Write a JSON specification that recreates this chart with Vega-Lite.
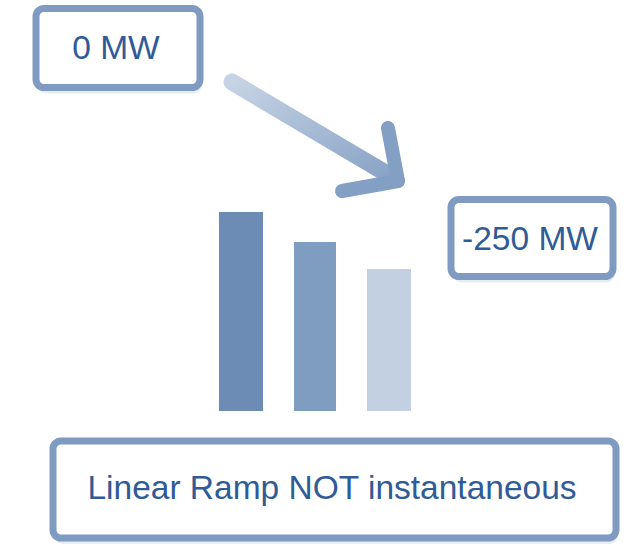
{
  "$schema": "https://vega.github.io/schema/vega-lite/v6.json",
  "autosize": {"type": "fit", "contains": "padding"},
  "width": 631,
  "height": 545,
  "padding": 0,
  "background": "white",
  "config": {"view": {"stroke": null}},
  "datasets": {
    "boxes": [
      {"label": "0 MW", "x1": 36, "x2": 200, "y1": 8.5, "y2": 87.5, "tx": 116, "ty": 49},
      {"label": "-250 MW", "x1": 451, "x2": 613, "y1": 199.5, "y2": 276.5, "tx": 530, "ty": 240},
      {"label": "Linear Ramp NOT instantaneous", "x1": 53, "x2": 616, "y1": 441, "y2": 538, "tx": 332, "ty": 489}
    ],
    "bars": [
      {"step": "1", "x1": 219, "x2": 263, "top": 212, "base": 411},
      {"step": "2", "x1": 294, "x2": 336, "top": 242, "base": 411},
      {"step": "3", "x1": 367, "x2": 411, "top": 269, "base": 411}
    ],
    "shaft": [{"xa": 232, "ya": 82, "xb": 394, "yb": 178}],
    "head": [
      {"part": "a", "xa": 388, "ya": 128, "xb": 398, "yb": 181},
      {"part": "b", "xa": 342, "ya": 191, "xb": 398, "yb": 181}
    ]
  },
  "encoding": {
    "x": {"type": "quantitative", "scale": {"domain": [0, 631], "nice": false, "zero": false}, "axis": null},
    "y": {"type": "quantitative", "scale": {"domain": [0, 545], "nice": false, "zero": false, "reverse": true}, "axis": null}
  },
  "layer": [
    {
      "data": {"name": "boxes"},
      "mark": {"type": "rect", "cornerRadius": 9, "fill": "#9fb4d0", "opacity": 0.25, "xOffset": 2, "yOffset": 6, "x2Offset": 2, "y2Offset": 6},
      "encoding": {"x": {"field": "x1"}, "x2": {"field": "x2"}, "y": {"field": "y1"}, "y2": {"field": "y2"}}
    },
    {
      "data": {"name": "boxes"},
      "mark": {"type": "rect", "cornerRadius": 8, "fill": "white", "stroke": "#7f9bc1", "strokeWidth": 7},
      "encoding": {"x": {"field": "x1"}, "x2": {"field": "x2"}, "y": {"field": "y1"}, "y2": {"field": "y2"}}
    },
    {
      "data": {"name": "boxes"},
      "mark": {"type": "text", "font": "Liberation Sans", "fontSize": 33.5, "color": "#2f5b97", "align": "center", "baseline": "middle"},
      "encoding": {"x": {"field": "tx"}, "y": {"field": "ty"}, "text": {"field": "label"}}
    },
    {
      "data": {"name": "bars"},
      "mark": {"type": "rect"},
      "encoding": {
        "x": {"field": "x1"}, "x2": {"field": "x2"}, "y": {"field": "top"}, "y2": {"field": "base"},
        "color": {"field": "step", "type": "nominal", "scale": {"domain": ["1", "2", "3"], "range": ["#6c8cb5", "#7f9cc1", "#c2d0e2"]}, "legend": null}
      }
    },
    {
      "data": {"name": "shaft"},
      "mark": {"type": "rule", "strokeWidth": 17, "strokeCap": "round",
        "color": {"gradient": "linear", "x1": 0, "y1": 0, "x2": 1, "y2": 1, "stops": [{"offset": 0, "color": "#c6d3e4"}, {"offset": 1, "color": "#87a2c5"}]}},
      "encoding": {"x": {"field": "xa"}, "y": {"field": "ya"}, "x2": {"field": "xb"}, "y2": {"field": "yb"}}
    },
    {
      "data": {"name": "head"},
      "mark": {"type": "rule", "strokeWidth": 14, "strokeCap": "round", "color": "#839fc3"},
      "encoding": {"x": {"field": "xa"}, "y": {"field": "ya"}, "x2": {"field": "xb"}, "y2": {"field": "yb"}}
    }
  ]
}
